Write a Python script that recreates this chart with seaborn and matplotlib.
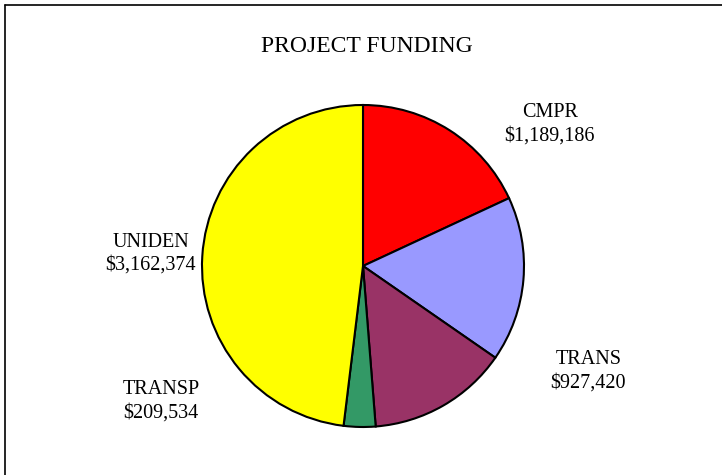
import matplotlib
matplotlib.use("Agg")
import matplotlib.pyplot as plt
from matplotlib.lines import Line2D
import seaborn as sns

# slices, clockwise from 12 o'clock
categorias = ["CMPR", "", "TRANS", "TRANSP", "UNIDEN"]
valores = [1189186, 1090000, 927420, 209534, 3162374]
cores = ["#FF0000", "#9999FF", "#993366", "#339966", "#FFFF00"]

sns.set_style("white")
plt.rcParams['font.family'] = ['Liberation Serif', 'DejaVu Serif']

fig = plt.figure(figsize=(7.22, 4.75), dpi=100)
W, H = 722, 475
cx, cy, r = 363, 266, 161
ax = fig.add_axes([(cx - r) / W, (H - cy - r) / H, 2 * r / W, 2 * r / H])

rotulos = [f"{c}\n${v:,}" if c else "" for c, v in zip(categorias, valores)]
wedges, textos = ax.pie(valores, labels=rotulos, colors=cores, startangle=90,
                        counterclock=False, radius=1,
                        wedgeprops=dict(edgecolor="black", linewidth=1.5),
                        textprops=dict(fontsize=14.5, color="black"))

# label positions (moved by hand, like in the original)
posicoes = {"CMPR": (1.16, 0.88), "TRANS": (1.40, -0.655),
            "TRANSP": (-1.255, -0.84), "UNIDEN": (-1.32, 0.075)}
for c, t in zip(categorias, textos):
    if c in posicoes:
        t.set_position(posicoes[c])
        t.set_ha("center")
        t.set_va("center")
        t.set_linespacing(1.3)

ax.set_xlim(-1, 1)
ax.set_ylim(-1, 1)
ax.set_aspect("equal")
ax.axis("off")

fig.text(367 / W, 1 - 47 / H, "PROJECT FUNDING", ha="center", va="center",
         fontsize=17, color="black")

# frame (only top and left edges visible)
fig.add_artist(Line2D([5 / W, 1], [1 - 5 / H, 1 - 5 / H], color="black", linewidth=1.2))
fig.add_artist(Line2D([5 / W, 5 / W], [0, 1 - 5 / H], color="black", linewidth=1.2))

fig.savefig("out.png", dpi=100)
